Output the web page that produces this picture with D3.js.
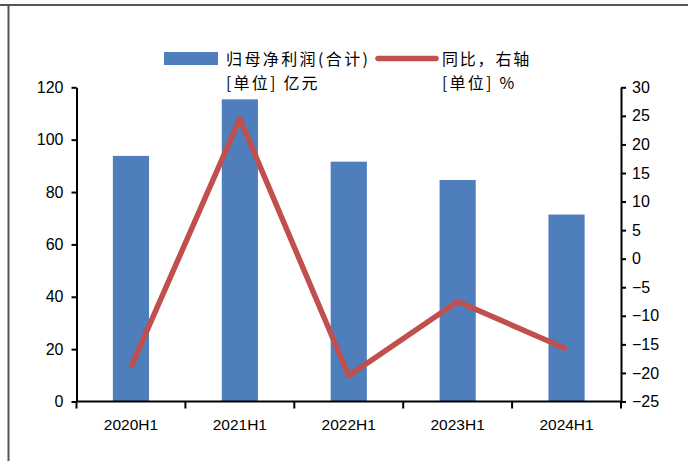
<!DOCTYPE html>
<html><head><meta charset="utf-8">
<script src="https://cdn.jsdelivr.net/npm/d3@7"></script>
<style>
html,body{margin:0;padding:0;background:#fff;}
svg{display:block;}
</style></head>
<body>
<svg id="c" width="694" height="461"></svg>
<script>
const categories = ["2020H1","2021H1","2022H1","2023H1","2024H1"];
const profit = [93.8, 115.4, 91.6, 84.6, 71.4];
const yoy = [-19.0, 24.5, -20.5, -7.5, -15.8];
const leftTicks = [0,20,40,60,80,100,120];
const rightTicks = [-25,-20,-15,-10,-5,0,5,10,15,20,25,30];
const legendBar = ["归母净利润(合计)", "[单位] 亿元"];
const legendLine = ["同比，右轴", "[单位] %"];

const svg = d3.select("#c");
const L = 76.5, R = 621, T = 87.3, B = 401.5;
const blue = "#4F7EBD", red = "#C0504D";

// frame
svg.append("line").attr("x1",0).attr("x2",688).attr("y1",5).attr("y2",5).attr("stroke","#555").attr("stroke-width",2);
svg.append("line").attr("x1",8.5).attr("x2",8.5).attr("y1",5).attr("y2",461).attr("stroke","#555").attr("stroke-width",2);

const x = d3.scaleBand().domain(categories).range([L,R]).padding(0);
const yL = d3.scaleLinear().domain([0,120]).range([B,T]);
const yR = d3.scaleLinear().domain([-25,30]).range([B,T]);

const barW = x.bandwidth()*0.332;
svg.append("g").selectAll("rect").data(categories).join("rect")
  .attr("x", d => x(d) + x.bandwidth()/2 - barW/2)
  .attr("y", (d,i) => yL(profit[i]))
  .attr("width", barW)
  .attr("height", (d,i) => B - yL(profit[i]))
  .attr("fill", blue);

const font = "'Liberation Sans', Arial, sans-serif";
// left axis
const gl = svg.append("g").attr("transform",`translate(${L},0)`)
  .call(d3.axisLeft(yL).tickValues(leftTicks).tickSize(5).tickPadding(8).tickSizeOuter(0));
// right axis
const gr = svg.append("g").attr("transform",`translate(${R},0)`)
  .call(d3.axisRight(yR).tickValues(rightTicks).tickSize(5).tickPadding(6).tickSizeOuter(0)
    .tickFormat(d => d < 0 ? "\u2212" + Math.abs(d) : String(d)));
// x axis
const xTickPos = categories.map(c => x(c)).concat([R]);
const gx = svg.append("g");
gx.append("line").attr("x1",L).attr("x2",R).attr("y1",B).attr("y2",B).attr("stroke","#000").attr("stroke-width",2);
gx.selectAll("line.t").data(xTickPos).join("line").attr("class","t")
  .attr("x1",d=>d).attr("x2",d=>d).attr("y1",B).attr("y2",B+7).attr("stroke","#000").attr("stroke-width",2);
gx.selectAll("text").data(categories).join("text")
  .attr("x", d => x(d)+x.bandwidth()/2).attr("y", 430)
  .attr("text-anchor","middle").attr("font-family",font).attr("font-size",15.5).attr("fill","#000")
  .text(d=>d);

[gl,gr].forEach(g=>{
  g.select(".domain").attr("stroke","#000").attr("stroke-width",2);
  g.selectAll(".tick line").attr("stroke","#000").attr("stroke-width",2);
  g.selectAll(".tick text").attr("font-family",font).attr("font-size",16).attr("fill","#000");
});

// line
const line = d3.line().x((d,i)=>x(categories[i])+x.bandwidth()/2).y(d=>yR(d));
svg.append("path").datum(yoy).attr("d",line).attr("fill","none")
  .attr("stroke",red).attr("stroke-width",5.5).attr("stroke-linejoin","round");

// legend
const cjk = "'Noto Sans CJK SC', sans-serif";
svg.append("rect").attr("x",164).attr("y",52).attr("width",54).attr("height",13).attr("fill",blue);
svg.append("line").attr("x1",378).attr("x2",436).attr("y1",58.5).attr("y2",58.5).attr("stroke",red).attr("stroke-width",5.5).attr("stroke-linecap","round");
const lg = svg.append("g").attr("font-family",cjk).attr("font-size",16).attr("fill","#000");
legendBar.forEach((t,i)=> lg.append("text").attr("x",226).attr("y",65+i*23.5).attr("letter-spacing",i===0?2.4:2.2).text(t));
legendLine.forEach((t,i)=> lg.append("text").attr("x",442).attr("y",65+i*23.5).attr("letter-spacing",i===0?1.8:2.2).text(t));
</script>
</body></html>
